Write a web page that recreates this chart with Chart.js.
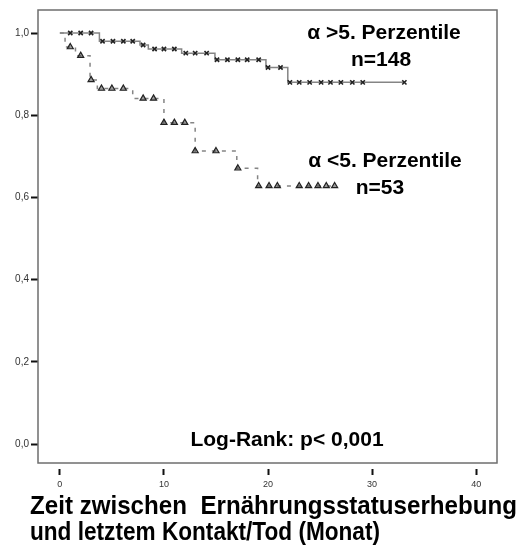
<!DOCTYPE html>
<html>
<head>
<meta charset="utf-8">
<script src="https://cdn.jsdelivr.net/npm/chart.js@4"></script>
<style>
  body { margin: 0; background: #fff; }
  canvas { display: block; }
</style>
</head>
<body>
<canvas id="kmChart" width="520" height="547"></canvas>
<script>
// Kaplan-Meier: step times (Monate) und Überlebensanteil nach dem Schritt
const upperTimes = [0, 3.8, 7.7, 8.5, 11.7, 14.9, 19.8, 21.9, 33.1]
const upperSurv = [1.0, 0.980, 0.971, 0.961, 0.951, 0.935, 0.916, 0.880, 0.880]
const upperCensored = [1.0, 2.0, 3.0, 4.1, 5.1, 6.1, 7.0, 8.0, 9.1, 10.0, 11.0, 12.1, 13.0, 14.1, 15.1, 16.1, 17.1, 18.0, 19.1, 20.0, 21.2, 22.1, 23.0, 24.0, 25.1, 26.0, 27.0, 28.1, 29.1, 33.1]

const lowerTimes = [0, 0.5, 1.5, 2.9, 3.6, 7.0, 10.0, 13.0, 17.0, 19.0, 26.4]
const lowerSurv = [1.0, 0.966, 0.945, 0.886, 0.865, 0.841, 0.782, 0.713, 0.671, 0.628, 0.628]
const lowerCensored = [1.0, 2.0, 3.0, 4.0, 5.0, 6.1, 8.0, 9.0, 10.0, 11.0, 12.0, 13.0, 15.0, 17.1, 19.1, 20.1, 20.9, 23.0, 23.9, 24.8, 25.6, 26.4]

const xTicks = [0, 10, 20, 30, 40]
const yTicks = [0, 0.2, 0.4, 0.6, 0.8, 1.0]

const groupLabels = ['α >5. Perzentile', 'α <5. Perzentile']
const groupN = ['n=148', 'n=53']
const testLabel = 'Log-Rank: p< 0,001'
const xTitle = ['Zeit zwischen  Ernährungsstatuserhebung', 'und letztem Kontakt/Tod (Monat)']

const steps = (t, s) => t.map((v, i) => ({ x: v, y: s[i] }))
const survAt = (t, s, x) => {
    let v = s[0]
    for (let i = 0; i < t.length; i++) if (t[i] <= x) v = s[i]
    return v
}
const censors = (t, s, c) => c.map(x => ({ x: x, y: survAt(t, s, x) }))

const frame = {
    id: 'frame',
    afterDraw(chart) {
        const { ctx, chartArea: a } = chart
        ctx.save()
        ctx.strokeStyle = '#6e6e6e'
        ctx.lineWidth = 1.5
        ctx.strokeRect(a.left, a.top, a.right - a.left, a.bottom - a.top)

        ctx.fillStyle = '#000'
        ctx.textBaseline = 'alphabetic'
        ctx.textAlign = 'center'
        ctx.font = 'bold 21px "Liberation Sans", Arial, sans-serif'
        ctx.fillText(groupLabels[0], 384, 39, 172)
        ctx.fillText(groupN[0], 381, 66, 68)
        ctx.fillText(groupLabels[1], 385, 167, 176)
        ctx.fillText(groupN[1], 380, 194, 64)
        ctx.fillText(testLabel, 287, 446, 221)

        ctx.textAlign = 'left'
        ctx.font = 'bold 25px "Liberation Sans", Arial, sans-serif'
        ctx.fillText(xTitle[0], 30, 514, 487)
        ctx.fillText(xTitle[1], 30, 540, 350)
        ctx.restore()
    }
}

const data = {
    datasets: [
        {
            label: 'oben Zensiert',
            data: censors(upperTimes, upperSurv, upperCensored),
            showLine: false,
            pointStyle: 'crossRot',
            pointRadius: 3,
            borderColor: '#222',
            borderWidth: 1.6
        },
        {
            label: 'unten Zensiert',
            data: censors(lowerTimes, lowerSurv, lowerCensored),
            showLine: false,
            pointStyle: 'triangle',
            pointRadius: 3.5,
            borderColor: '#222',
            backgroundColor: 'rgba(60,60,60,0.5)',
            borderWidth: 1.2
        },
        {
            label: groupLabels[0],
            data: steps(upperTimes, upperSurv),
            showLine: true,
            stepped: 'before',
            borderColor: '#858585',
            borderWidth: 1.5,
            pointRadius: 0
        },
        {
            label: groupLabels[1],
            data: steps(lowerTimes, lowerSurv),
            showLine: true,
            stepped: 'before',
            borderColor: '#858585',
            borderWidth: 1.5,
            borderDash: [4, 6],
            pointRadius: 0
        }
    ]
}

const config = {
    type: 'scatter',
    data: data,
    options: {
        responsive: false,
        animation: false,
        layout: { padding: { top: 10, right: 23, left: 0, bottom: 0 } },
        plugins: { legend: { display: false }, tooltip: { enabled: false } },
        scales: {
            x: {
                min: -2.1,
                max: 42,
                afterFit(scale) { scale.height = 84 },
                afterBuildTicks(scale) { scale.ticks = xTicks.map(v => ({ value: v })) },
                border: { display: false },
                grid: {
                    drawOnChartArea: false,
                    tickLength: 12,
                    tickWidth: 2,
                    tickColor: '#111',
                    tickBorderDash: [0, 6, 6, 100]
                },
                ticks: {
                    padding: 4,
                    color: '#333',
                    font: { family: 'Liberation Sans', size: 9 }
                }
            },
            y: {
                min: -0.046,
                max: 1.056,
                afterFit(scale) { scale.width = 38 },
                afterBuildTicks(scale) { scale.ticks = yTicks.map(v => ({ value: v })) },
                border: { display: false },
                grid: {
                    drawOnChartArea: false,
                    tickLength: 7,
                    tickWidth: 2,
                    tickColor: '#111'
                },
                ticks: {
                    padding: 2,
                    color: '#333',
                    font: { family: 'Liberation Sans', size: 10 },
                    callback: v => v.toFixed(1).replace('.', ',')
                }
            }
        }
    },
    plugins: [frame]
}

new Chart(document.getElementById('kmChart').getContext('2d'), config)
</script>
</body>
</html>
